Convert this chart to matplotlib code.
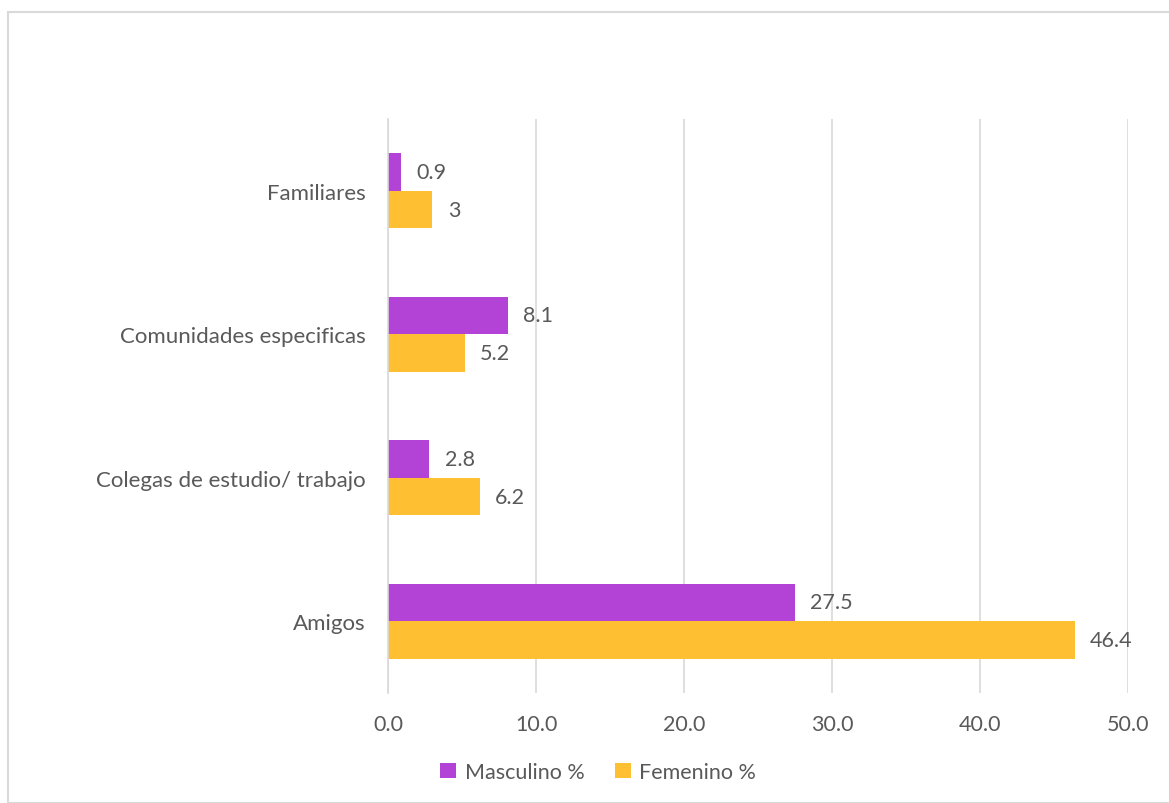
import numpy as np
import matplotlib.pyplot as plt
from matplotlib.patches import Rectangle

categories = ["Amigos", "Colegas de estudio/ trabajo", "Comunidades especificas", "Familiares"]
masculino = [27.5, 2.8, 8.1, 0.9]
femenino = [46.4, 6.2, 5.2, 3.0]
masc_labels = ["27.5", "2.8", "8.1", "0.9"]
fem_labels = ["46.4", "6.2", "5.2", "3"]
xticks = [0, 10, 20, 30, 40, 50]

purple = "#b343d6"
orange = "#ffbf33"
txt = "#595959"
fs = 15.5

plt.rcParams["font.family"] = ["Lato", "DejaVu Sans"]

W, H = 1169, 804
fig = plt.figure(figsize=(W / 100, H / 100), dpi=100)
ax = fig.add_axes([388 / W, 1 - 694 / H, (1128 - 388) / W, (694 - 120) / H])

y = np.arange(len(categories))
h = 0.262
ax.barh(y + h / 2, masculino, height=h, color=purple, label="Masculino %")
ax.barh(y - h / 2, femenino, height=h, color=orange, label="Femenino %")

# value labels just right of each bar
for i in range(len(categories)):
    ax.annotate(masc_labels[i], (masculino[i], y[i] + h / 2), xytext=(11, 0),
                textcoords="offset points", va="center", ha="left", fontsize=fs, color=txt)
    ax.annotate(fem_labels[i], (femenino[i], y[i] - h / 2), xytext=(11, 0),
                textcoords="offset points", va="center", ha="left", fontsize=fs, color=txt)

ax.set_xlim(0, 50)
ax.set_ylim(-0.5, 3.5)
ax.set_xticks(xticks)
ax.set_xticklabels([f"{v:.1f}" for v in xticks])
ax.set_yticks(y)
ax.set_yticklabels(categories, fontsize=16)
ax.tick_params(axis="both", length=0, colors=txt)
ax.tick_params(axis="x", pad=15, labelsize=fs)
ax.tick_params(axis="y", pad=16)
ax.xaxis.grid(True, color="#d9d9d9", linewidth=1.2)
ax.set_axisbelow(True)
for s in ["top", "right", "bottom"]:
    ax.spines[s].set_visible(False)
ax.spines["left"].set_color("#d9d9d9")
ax.spines["left"].set_linewidth(1.2)

fig.legend(loc="center", bbox_to_anchor=(598 / W, 1 - 773 / H), ncol=2, frameon=False,
           fontsize=fs, labelcolor=txt, handlelength=0.75, handleheight=0.75,
           handletextpad=0.4, columnspacing=1.4)

fig.patches.append(Rectangle((8 / W, 0), 1.2, 1 - 13 / H, transform=fig.transFigure,
                             fill=False, edgecolor="#d9d9d9", linewidth=1.5))

fig.savefig("out.png", dpi=100)
